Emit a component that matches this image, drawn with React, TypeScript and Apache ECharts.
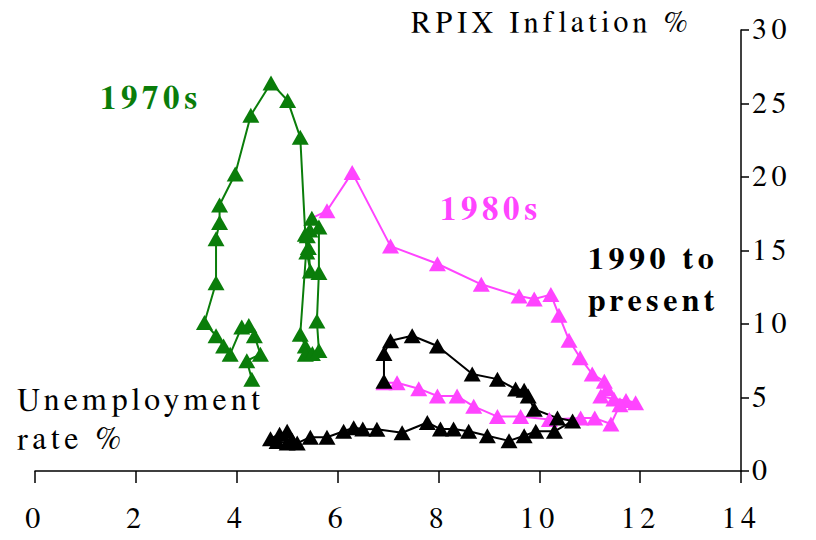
import React, { useEffect, useRef } from "react";
import * as echarts from "echarts";

// 1970s (unemployment %, RPIX inflation %)
const seventiesX = [4.30, 4.20, 4.47, 4.35, 4.24, 4.10, 3.87, 3.74, 3.59, 3.36, 3.59, 3.59, 3.66, 3.66, 3.97, 4.28, 4.68, 5.01, 5.26, 5.36, 5.39, 5.46, 5.42, 5.45, 5.40, 5.26, 5.36, 5.36, 5.50, 5.63, 5.59, 5.63, 5.63, 5.49];
const seventiesY = [6.25, 7.5, 7.95, 9.2, 9.9, 9.8, 7.95, 8.5, 9.2, 10.1, 12.8, 15.8, 16.9, 18.1, 20.2, 24.2, 26.4, 25.2, 22.7, 16.1, 14.9, 13.6, 15.2, 16.4, 16.0, 9.3, 8.5, 7.95, 8.0, 8.2, 10.2, 13.5, 16.6, 17.2];

// 1980s
const eightiesX = [5.49, 5.79, 6.29, 7.05, 7.98, 8.85, 9.60, 9.90, 10.23, 10.39, 10.59, 10.81, 11.05, 11.29, 11.35, 11.22, 11.48, 11.72, 11.91, 11.60, 11.42, 11.10, 10.82, 10.20, 9.63, 9.17, 8.70, 8.37, 7.98, 7.61, 7.18, 6.92];
const eightiesY = [17.2, 17.7, 20.3, 15.3, 14.1, 12.7, 11.9, 11.7, 12.0, 10.6, 8.9, 7.7, 6.6, 6.1, 5.6, 5.1, 4.9, 4.8, 4.65, 4.5, 3.2, 3.6, 3.6, 3.5, 3.7, 3.7, 4.4, 5.1, 5.1, 5.6, 6.0, 6.0];

// 1990 to present
const ninetiesX = [6.92, 6.92, 7.05, 7.48, 7.98, 8.67, 9.17, 9.53, 9.70, 9.78, 9.90, 10.36, 10.66, 10.30, 9.93, 9.70, 9.40, 8.97, 8.60, 8.30, 8.04, 7.78, 7.28, 6.78, 6.50, 6.32, 6.12, 5.79, 5.46, 5.20, 5.00, 4.85, 4.67, 4.80, 5.00, 5.10];
const ninetiesY = [6.1, 8.0, 8.86, 9.2, 8.5, 6.6, 6.25, 5.57, 5.5, 5.1, 4.2, 3.6, 3.4, 2.7, 2.7, 2.4, 2.05, 2.4, 2.7, 2.85, 2.85, 3.3, 2.6, 2.84, 2.85, 2.95, 2.7, 2.3, 2.3, 1.9, 2.7, 2.5, 2.2, 2.0, 1.9, 2.1];

const xTicks = [0, 14, 2];
const yTicks = [0, 30, 5];

const GREEN = "#0a7d0a";
const PINK = "#ff44ff";
const FONT = "FreeSerif";

function pairs(xs: number[], ys: number[]) {
  return xs.map((x, i) => [x, ys[i]]);
}

export default function App() {
  const ref = useRef<HTMLDivElement>(null);
  useEffect(() => {
    if (!ref.current) return;
    const chart = echarts.init(ref.current, null, { renderer: "svg" });
    const pinkData: any[] = pairs(eightiesX, eightiesY).map((p, i) =>
      i === 0 ? { value: p, symbol: "none" } : p
    );
    const sym = { symbol: "triangle", symbolSize: [17, 15] as any };
    const txt = (text: string, left: number, top: number, fill: string, bold: boolean, size: number) => ({
      type: "text",
      left,
      top,
      style: { text, fill, fontFamily: FONT, fontSize: size, fontWeight: bold ? "bold" : "normal" },
    });
    chart.setOption({
      animation: false,
      backgroundColor: "#ffffff",
      grid: { left: 35, right: 75, top: 30, bottom: 69 },
      xAxis: {
        type: "value",
        min: xTicks[0],
        max: xTicks[1],
        interval: xTicks[2],
        axisLine: { show: true, onZero: false, lineStyle: { color: "#000", width: 1.5 } },
        axisTick: { show: true, length: 12, lineStyle: { color: "#000", width: 1.5 } },
        splitLine: { show: false },
        axisLabel: { color: "#000", fontFamily: FONT, fontSize: 30, margin: 33 },
      },
      yAxis: {
        type: "value",
        position: "right",
        min: yTicks[0],
        max: yTicks[1],
        interval: yTicks[2],
        axisLine: { show: true, onZero: false, lineStyle: { color: "#000", width: 1.5 } },
        axisTick: { show: true, length: 8, lineStyle: { color: "#000", width: 1.5 } },
        splitLine: { show: false },
        axisLabel: { color: "#000", fontFamily: FONT, fontSize: 30, margin: 11 },
      },
      series: [
        {
          type: "line",
          data: pinkData,
          ...sym,
          itemStyle: { color: PINK },
          lineStyle: { color: PINK, width: 2 },
        },
        {
          type: "line",
          data: pairs(ninetiesX, ninetiesY),
          ...sym,
          itemStyle: { color: "#000" },
          lineStyle: { color: "#000", width: 2 },
        },
        {
          type: "line",
          data: pairs(seventiesX, seventiesY),
          ...sym,
          itemStyle: { color: GREEN },
          lineStyle: { color: GREEN, width: 2 },
        },
      ],
      graphic: [
        txt("RPIX Inflation %", 411, 8, "#000", false, 30),
        txt("1970s", 100, 83, GREEN, true, 33),
        txt("1980s", 440, 194, PINK, true, 33),
        txt("1990 to", 588, 243, "#000", true, 32),
        txt("present", 588, 285, "#000", true, 32),
        txt("Unemployment", 17, 384, "#000", false, 32),
        txt("rate %", 17, 423, "#000", false, 32),
      ],
    });
    return () => chart.dispose();
  }, []);
  return (
    <div
      ref={ref}
      style={{ width: 816, height: 540, position: "absolute", left: 0, top: 0, letterSpacing: "4.5px" }}
    />
  );
}
